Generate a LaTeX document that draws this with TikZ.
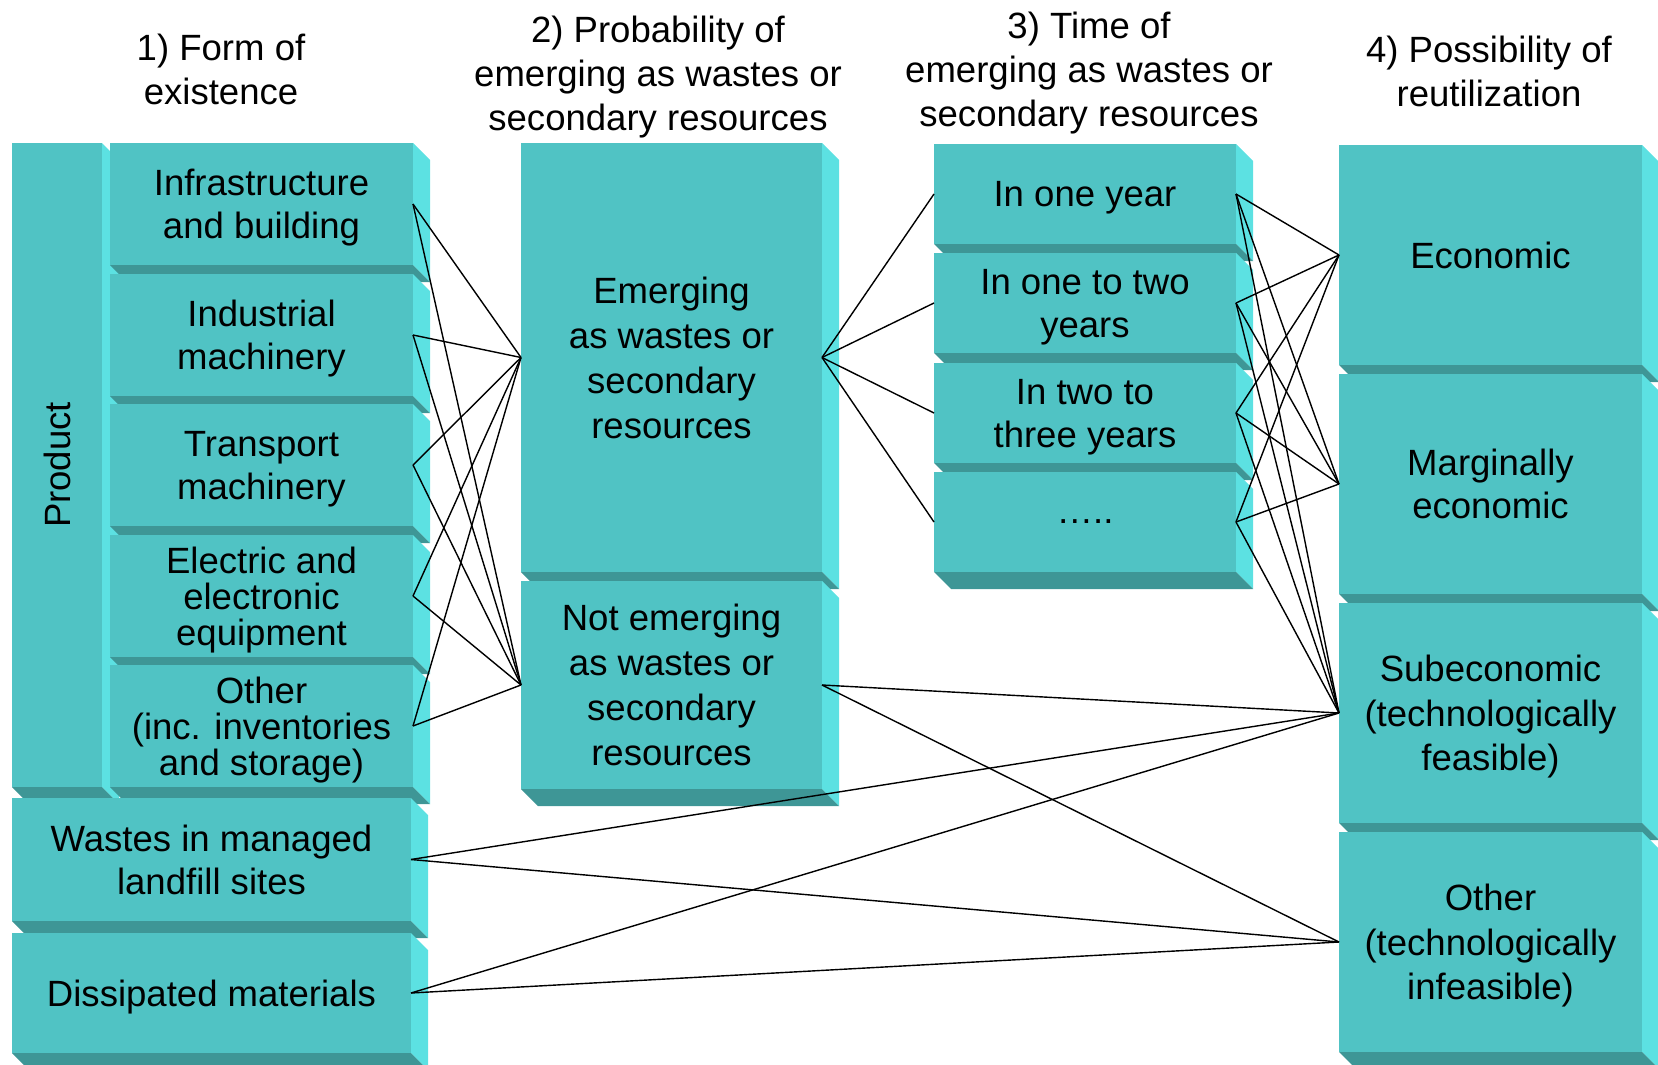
\documentclass[tikz,border=0pt]{standalone}
\usepackage{fontspec}
\setmainfont{Liberation Sans}
\usetikzlibrary{calc}
\definecolor{frontcol}{RGB}{80,195,196}
\definecolor{sidecol}{RGB}{92,225,226}
\definecolor{botcol}{RGB}{62,150,150}
\newdimen\pxu \pxu=0.02cm
\tikzset{
  slab/.style={fill=frontcol,inner sep=0pt,outer sep=0pt,align=center,text depth=0pt,
    font=\fontsize{20.8}{24.5}\selectfont},
  head/.style={align=center,font=\fontsize{20.8}{25}\selectfont},
  link/.style={line width=0.8pt}
}
% side and bottom faces of a slab
\newcommand\faces[1]{%
  \fill[sidecol] (#1.north east) -- ++(17,17) -- ($(#1.south east)+(17,17)$) -- (#1.south east) -- cycle;
  \fill[botcol] (#1.south west) -- (#1.south east) -- ++(17,17) -- ($(#1.south west)+(17,17)$) -- cycle;
}
\begin{document}
\begin{tikzpicture}[x=0.02cm,y=-0.02cm]
\useasboundingbox (0,0) rectangle (1658,1065);

\node[head] (h1) at (221,69) {1) Form of\\existence};
\node[head] (h2) at (658,77) {2) Probability of\\emerging as wastes or\\secondary resources};
\node[head] (h3) at (1089,73) {3) Time of\\emerging as wastes or\\secondary resources};
\node[head] (h4) at (1489,71) {4) Possibility of\\reutilization};

\node[slab,minimum width=90\pxu,minimum height=644\pxu] (product) at (57,465) {}; \faces{product}
\node[rotate=90,font=\fontsize{20.8}{24.5}\selectfont] (producttxt) at (product.center) {Product};
\node[slab,minimum width=303\pxu,minimum height=122\pxu] (infra) at (261.5,204) {Infrastructure\\and building}; \faces{infra}
\node[slab,minimum width=303\pxu,minimum height=122\pxu] (indus) at (261.5,335) {Industrial\\machinery}; \faces{indus}
\node[slab,minimum width=303\pxu,minimum height=122\pxu] (trans) at (261.5,465) {Transport\\machinery}; \faces{trans}
\node[slab,minimum width=303\pxu,minimum height=122\pxu,font=\fontsize{20.8}{20.4}\selectfont] (elec) at (261.5,596) {Electric and\\electronic\\equipment}; \faces{elec}
\node[slab,minimum width=303\pxu,minimum height=122\pxu,font=\fontsize{20.8}{20.4}\selectfont] (othr) at (261.5,726) {Other\\(inc. inventories\\and storage)}; \faces{othr}
\node[slab,minimum width=399\pxu,minimum height=123\pxu] (wastes) at (211.5,859.5) {Wastes in managed\\landfill sites}; \faces{wastes}
\node[slab,minimum width=399\pxu,minimum height=120\pxu] (dissip) at (211.5,993) {Dissipated materials}; \faces{dissip}

\node[slab,minimum width=301\pxu,minimum height=429\pxu,font=\fontsize{20.8}{25.7}\selectfont] (emerg) at (671.5,357.5) {Emerging\\as wastes or\\secondary\\resources}; \faces{emerg}
\node[slab,minimum width=301\pxu,minimum height=208\pxu,font=\fontsize{20.8}{25.7}\selectfont] (notem) at (671.5,685) {Not emerging\\as wastes or\\secondary\\resources}; \faces{notem}

\node[slab,minimum width=302\pxu,minimum height=100\pxu] (year1) at (1085,194) {In one year}; \faces{year1}
\node[slab,minimum width=302\pxu,minimum height=100\pxu] (year2) at (1085,303) {In one to two\\years}; \faces{year2}
\node[slab,minimum width=302\pxu,minimum height=100\pxu] (year3) at (1085,413) {In two to\\three years}; \faces{year3}
\node[slab,minimum width=302\pxu,minimum height=100\pxu] (yearn) at (1085,522) {…..}; \faces{yearn}

\node[slab,minimum width=303\pxu,minimum height=220\pxu] (econ) at (1490.5,255) {Economic}; \faces{econ}
\node[slab,minimum width=303\pxu,minimum height=220\pxu] (margin) at (1490.5,484) {Marginally\\economic}; \faces{margin}
\node[slab,minimum width=303\pxu,minimum height=220\pxu,font=\fontsize{20.8}{25.2}\selectfont] (subecon) at (1490.5,713) {Subeconomic\\(technologically\\feasible)}; \faces{subecon}
\node[slab,minimum width=303\pxu,minimum height=220\pxu,font=\fontsize{20.8}{25.2}\selectfont] (infeas) at (1490.5,942) {Other\\(technologically\\infeasible)}; \faces{infeas}

\foreach \a in {infra,indus,trans,elec,othr}
  \foreach \b in {emerg,notem}
    \draw[link] (\a.east) -- (\b.west);
\foreach \b in {year1,year2,year3,yearn}
  \draw[link] (emerg.east) -- (\b.west);
\foreach \a in {year1,year2,year3,yearn}
  \foreach \b in {econ,margin,subecon}
    \draw[link] (\a.east) -- (\b.west);
\foreach \a in {notem,wastes,dissip}
  \foreach \b in {subecon,infeas}
    \draw[link] (\a.east) -- (\b.west);
\end{tikzpicture}
\end{document}
